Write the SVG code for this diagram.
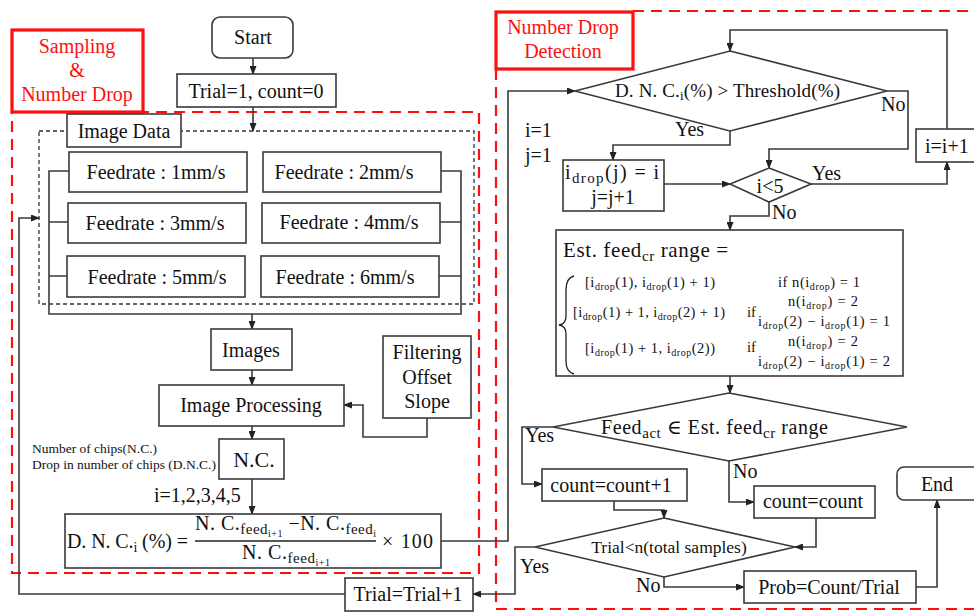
<svg xmlns="http://www.w3.org/2000/svg" width="974" height="613" viewBox="0 0 974 613" font-family="'Liberation Serif', 'DejaVu Serif', serif">
<defs>
<marker id="ah" markerWidth="9" markerHeight="7" refX="8" refY="3.5" orient="auto" markerUnits="userSpaceOnUse">
<path d="M0,0 L9,3.5 L0,7 z" fill="#222"/>
</marker>
<style>
.b{fill:#fff;stroke:#3a3a3a;stroke-width:1.6}
.c{fill:none;stroke:#3a3a3a;stroke-width:1.6}
.ca{fill:none;stroke:#3a3a3a;stroke-width:1.6;marker-end:url(#ah)}
.rd{fill:none;stroke:#ff1010;stroke-width:2.2;stroke-dasharray:11 7}
.rb{fill:#fff;stroke:#ff1010;stroke-width:3.2}
.kd{fill:none;stroke:#333;stroke-width:1.3;stroke-dasharray:4 3}
text{fill:#111}
.t{font-size:20px;text-anchor:middle}
.l{font-size:20px}
.r{font-size:20px;fill:#ff1010;text-anchor:middle}
.s{font-size:13.5px}
.m{font-size:14.5px}
.sb{font-size:10px}
</style>
</defs>

<g id="frames">
<rect class="rd" x="12" y="112" width="467" height="461"/>
<path class="rd" d="M496,69 L496,609 L976,609 M633,11 L976,11"/>
<rect class="kd" x="39" y="131" width="435" height="173"/>
</g>

<g id="label-sampling">
<rect class="rb" x="12" y="30" width="131" height="82"/>
<text class="r" x="77" y="53">Sampling</text>
<text class="r" x="77" y="77">&amp;</text>
<text class="r" x="77" y="101">Number Drop</text>
</g>

<g id="label-detection">
<rect class="rb" x="496" y="12" width="137" height="57"/>
<text class="r" x="563" y="34">Number Drop</text>
<text class="r" x="563" y="58">Detection</text>
</g>

<g id="connectors">
<path class="ca" d="M253,58 L253,74"/>
<path class="ca" d="M253,107 L253,131"/>
<path class="c" d="M69,171 L49,171 L49,314 L461,314 L461,171 L441,171 M49,222 L68,222 M49,276 L67,276 M440,222 L461,222 M439,276 L461,276"/>
<path class="ca" d="M252,314 L252,329"/>
<path class="ca" d="M252,370 L252,385"/>
<path class="ca" d="M427,418 L427,437 L363,437 L363,405 L344,405"/>
<path class="ca" d="M252,426 L252,439"/>
<path class="ca" d="M252,479 L252,514"/>
<path class="ca" d="M441,541 L508,541 L508,91 L575,91"/>
<path class="ca" d="M345,594 L19,594 L19,218 L39,218"/>
<path class="ca" d="M947,129 L947,30 L730,30 L730,51"/>
<path class="ca" d="M887,91 L908,91 L908,149 L769,149 L769,168"/>
<path class="ca" d="M730,131 L730,145 L613,145 L613,160"/>
<path class="ca" d="M664,184 L730,184"/>
<path class="ca" d="M811,184 L947,184 L947,162"/>
<path class="ca" d="M769,202 L769,216 L730,216 L730,230"/>
<path class="ca" d="M730,376 L730,393"/>
<path class="ca" d="M553,427 L522,427 L522,484 L542,484"/>
<path class="ca" d="M729,461 L729,502 L754,502"/>
<path class="ca" d="M614,501 L614,510 L664,510 L664,518"/>
<path class="ca" d="M816,518 L816,547 L795,547"/>
<path class="ca" d="M535,547 L515,547 L515,594 L473,594"/>
<path class="ca" d="M664,577 L664,587 L744,587"/>
<path class="ca" d="M916,587 L937,587 L937,500"/>
</g>

<g id="edge-labels">
<text class="l" x="675" y="136">Yes</text>
<text class="l" x="881" y="111">No</text>
<text class="l" x="812" y="180">Yes</text>
<text class="l" x="772" y="219">No</text>
<text class="l" x="525" y="442">Yes</text>
<text class="l" x="733" y="478">No</text>
<text class="l" x="520" y="573">Yes</text>
<text class="l" x="636" y="592">No</text>
<text class="l" x="525" y="137">i=1</text>
<text class="l" x="525" y="162">j=1</text>
<text class="l" x="154" y="502">i=1,2,3,4,5</text>
<text class="s" x="32" y="453" textLength="125" lengthAdjust="spacingAndGlyphs">Number of chips(N.C.)</text>
<text class="s" x="32" y="469" textLength="184" lengthAdjust="spacingAndGlyphs">Drop in number of chips (D.N.C.)</text>
</g>

<g id="start"><rect class="b" x="212" y="17" width="81" height="41" rx="8"/><text class="t" x="253" y="44">Start</text></g>
<g id="init"><rect class="b" x="177" y="74" width="159" height="33"/><text class="t" x="256" y="98">Trial=1, count=0</text></g>
<g id="image-data"><rect class="b" x="67" y="114" width="114" height="33"/><text class="t" x="124" y="138">Image Data</text></g>
<g id="f1"><rect class="b" x="69" y="152" width="178" height="40"/><text class="t" x="156" y="179">Feedrate : 1mm/s</text></g>
<g id="f2"><rect class="b" x="263" y="152" width="178" height="40"/><text class="t" x="344" y="179">Feedrate : 2mm/s</text></g>
<g id="f3"><rect class="b" x="68" y="203" width="178" height="40"/><text class="t" x="155" y="230">Feedrate : 3mm/s</text></g>
<g id="f4"><rect class="b" x="262" y="203" width="178" height="40"/><text class="t" x="349" y="229">Feedrate : 4mm/s</text></g>
<g id="f5"><rect class="b" x="67" y="256" width="178" height="41"/><text class="t" x="157" y="284">Feedrate : 5mm/s</text></g>
<g id="f6"><rect class="b" x="261" y="256" width="178" height="41"/><text class="t" x="345" y="284">Feedrate : 6mm/s</text></g>
<g id="images"><rect class="b" x="211" y="329" width="81" height="41"/><text class="t" x="251" y="357">Images</text></g>
<g id="processing"><rect class="b" x="159" y="385" width="185" height="41"/><text class="t" x="251" y="412">Image Processing</text></g>
<g id="filtering"><rect class="b" x="383" y="336" width="88" height="82"/>
<text class="t" x="427" y="359">Filtering</text><text class="t" x="427" y="384">Offset</text><text class="t" x="427" y="408">Slope</text></g>
<g id="nc"><rect class="b" x="219" y="439" width="65" height="40"/><text class="t" x="254" y="467" style="font-size:22px">N.C.</text></g>
<g id="dnc"><rect class="b" x="65" y="514" width="376" height="54"/>
<text class="l" x="67" y="548" textLength="121" lengthAdjust="spacing">D. N. C.<tspan style="font-size:14px" dy="4">i</tspan><tspan dy="-4"> (%) =</tspan></text>
<line x1="195" y1="541" x2="376" y2="541" stroke="#222" stroke-width="1.3"/>
<text class="l" x="195" y="530" textLength="181" lengthAdjust="spacing">N. C.<tspan style="font-size:15px" dy="4">feed</tspan><tspan style="font-size:10px" dy="3">i+1</tspan><tspan dy="-7"> −N. C.</tspan><tspan style="font-size:15px" dy="4">feed</tspan><tspan style="font-size:10px" dy="3">i</tspan></text>
<text class="l" x="242" y="559" textLength="88" lengthAdjust="spacing">N. C.<tspan style="font-size:15px" dy="4">feed</tspan><tspan style="font-size:10px" dy="3">i+1</tspan></text>
<text class="l" x="382" y="548" textLength="51" lengthAdjust="spacing">× 100</text>
</g>
<g id="trial-inc"><rect class="b" x="345" y="578" width="128" height="33"/><text class="t" x="408" y="601">Trial=Trial+1</text></g>

<g id="d1"><path class="b" d="M730,51 L887,91 L730,131 L575,91 z"/>
<text class="l" x="615" y="97" style="font-size:19px" textLength="225" lengthAdjust="spacing">D. N. C.<tspan style="font-size:13px" dy="3">i</tspan><tspan dy="-3">(%) &gt; Threshold(%)</tspan></text></g>
<g id="idrop"><rect class="b" x="563" y="160" width="101" height="51"/>
<text class="l" x="565" y="179" textLength="94" lengthAdjust="spacing">i<tspan style="font-size:15px" dy="4">drop</tspan><tspan dy="-4">(j) = i</tspan></text>
<text class="t" x="613" y="204">j=j+1</text></g>
<g id="d2"><path class="b" d="M769,168 L811,184 L769,202 L730,184 z"/><text class="t" x="770" y="193">i&lt;5</text></g>
<g id="iinc"><rect class="b" x="916" y="129" width="62" height="33"/><text class="l" x="925" y="153">i=i+1</text></g>
<g id="est"><rect class="b" x="556" y="230" width="347" height="146"/>
<text class="l" x="563" y="257" style="font-size:21px" textLength="165" lengthAdjust="spacing">Est. feed<tspan style="font-size:15px" dy="4">cr</tspan><tspan dy="-4"> range =</tspan></text>
<path d="M574,276 Q566,278 566,290 L566,316 Q566,324 559,325 Q566,326 566,334 L566,361 Q566,372 574,374" fill="none" stroke="#222" stroke-width="1.3"/>
<text class="m" x="585" y="287" textLength="130" lengthAdjust="spacing">[i<tspan class="sb" dy="3">drop</tspan><tspan dy="-3">(1), i</tspan><tspan class="sb" dy="3">drop</tspan><tspan dy="-3">(1) + 1)</tspan></text>
<text class="m" x="778" y="287" textLength="82" lengthAdjust="spacing">if n(i<tspan class="sb" dy="3">drop</tspan><tspan dy="-3">) = 1</tspan></text>
<text class="m" x="573" y="317" textLength="152" lengthAdjust="spacing">[i<tspan class="sb" dy="3">drop</tspan><tspan dy="-3">(1) + 1, i</tspan><tspan class="sb" dy="3">drop</tspan><tspan dy="-3">(2) + 1)</tspan></text>
<text class="m" x="747" y="317">if</text>
<text class="m" x="788" y="306" textLength="70" lengthAdjust="spacing">n(i<tspan class="sb" dy="3">drop</tspan><tspan dy="-3">) = 2</tspan></text>
<text class="m" x="758" y="326" textLength="132" lengthAdjust="spacing">i<tspan class="sb" dy="3">drop</tspan><tspan dy="-3">(2) − i</tspan><tspan class="sb" dy="3">drop</tspan><tspan dy="-3">(1) = 1</tspan></text>
<text class="m" x="585" y="353" textLength="130" lengthAdjust="spacing">[i<tspan class="sb" dy="3">drop</tspan><tspan dy="-3">(1) + 1, i</tspan><tspan class="sb" dy="3">drop</tspan><tspan dy="-3">(2))</tspan></text>
<text class="m" x="747" y="352">if</text>
<text class="m" x="788" y="346" textLength="70" lengthAdjust="spacing">n(i<tspan class="sb" dy="3">drop</tspan><tspan dy="-3">) = 2</tspan></text>
<text class="m" x="758" y="366" textLength="132" lengthAdjust="spacing">i<tspan class="sb" dy="3">drop</tspan><tspan dy="-3">(2) − i</tspan><tspan class="sb" dy="3">drop</tspan><tspan dy="-3">(1) = 2</tspan></text>
</g>
<g id="d3"><path class="b" d="M729,393 L907,427 L729,461 L553,427 z"/>
<text class="l" x="601" y="434" textLength="227" lengthAdjust="spacing">Feed<tspan style="font-size:15px" dy="4">act</tspan><tspan dy="-4"> ∈ Est. feed</tspan><tspan style="font-size:15px" dy="4">cr</tspan><tspan dy="-4"> range</tspan></text></g>
<g id="cnt-inc"><rect class="b" x="542" y="469" width="145" height="32"/><text class="t" x="611" y="492">count=count+1</text></g>
<g id="cnt"><rect class="b" x="754" y="486" width="121" height="32"/><text class="t" x="813" y="508">count=count</text></g>
<g id="d4"><path class="b" d="M664,518 L795,547 L664,577 L535,547 z"/>
<text class="t" x="669" y="553" style="font-size:17.5px">Trial&lt;n(total samples)</text></g>
<g id="prob"><rect class="b" x="744" y="571" width="172" height="32"/><text class="t" x="829" y="594">Prob=Count/Trial</text></g>
<g id="end"><rect class="b" x="897" y="467" width="85" height="33" rx="7"/><text class="t" x="937" y="491">End</text></g>
</svg>
